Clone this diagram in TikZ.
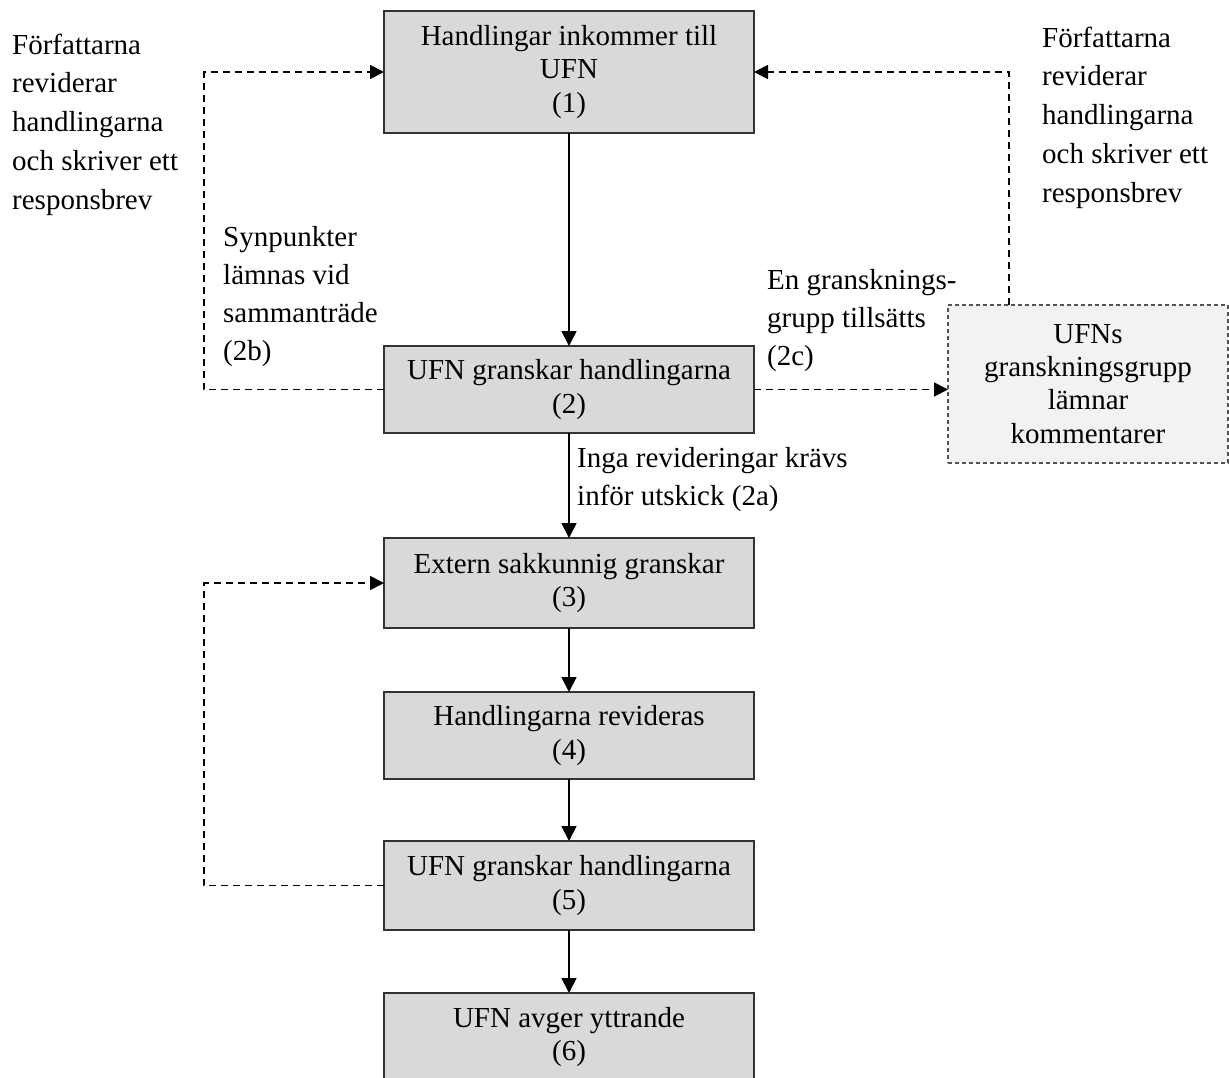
\documentclass[tikz,border=0pt]{standalone}
\usepackage{fontspec}
\setmainfont{Liberation Serif}
\usetikzlibrary{arrows.meta,calc}
\definecolor{boxfill}{HTML}{D9D9D9}
\definecolor{grpfill}{HTML}{F2F2F2}
\definecolor{boxline}{HTML}{333333}
\begin{document}
\begin{tikzpicture}[x=1pt,y=-1pt,
  stepbox/.style={draw=boxline, line width=1.8pt, fill=boxfill, minimum width=370pt,
    inner sep=0pt, outer sep=0pt, align=center, font=\fontsize{29}{33.2}\selectfont},
  grpbox/.style={draw=boxline!85, line width=1.1pt, dash pattern=on 4pt off 3pt, fill=grpfill,
    minimum width=280pt, minimum height=158pt, inner sep=0pt, outer sep=0pt, align=center,
    font=\fontsize{29}{33.2}\selectfont},
  flow/.style={line width=1.8pt, -{Triangle[length=15pt,width=15pt]}},
  loopline/.style={line width=1.8pt, -{Triangle[length=14pt,width=14pt]}, dash pattern=on 7pt off 5pt},
  lbl/.style={anchor=west, align=left, inner sep=0pt, font=\fontsize{29}{38}\selectfont},
  side/.style={anchor=west, align=left, inner sep=0pt, font=\fontsize{29}{38.75}\selectfont}
]
\clip (0,0) rectangle (1229,1077);
% main boxes
\node[stepbox, minimum height=122pt] (b1) at (569,72) {Handlingar inkommer till\\UFN\\(1)};
\node[stepbox, minimum height=87pt] (b2) at (569,389.5) {UFN granskar handlingarna\\(2)};
\node[stepbox, minimum height=90pt] (b3) at (569,583) {Extern sakkunnig granskar\\(3)};
\node[stepbox, minimum height=87pt] (b4) at (569,735.5) {Handlingarna revideras\\(4)};
\node[stepbox, minimum height=89pt] (b5) at (569,885.5) {UFN granskar handlingarna\\(5)};
\node[stepbox, minimum height=88pt] (b6) at (569,1037) {UFN avger yttrande\\(6)};
\node[grpbox] (b7) at (1088,384) {UFNs\\granskningsgrupp\\lämnar\\kommentarer};
% labels
\node[side] (tl) at (12,124.4) {Författarna\\reviderar\\handlingarna\\och skriver ett\\responsbrev};
\node[side] (tr) at (1042,117.5) {Författarna\\reviderar\\handlingarna\\och skriver ett\\responsbrev};
\node[lbl] (l2b) at (223,297) {Synpunkter\\lämnas vid\\sammanträde\\(2b)};
\node[lbl] (l2c) at (767,321) {En gransknings-\\grupp tillsätts\\(2c)};
\node[lbl] (l2a) at (577,480) {Inga revideringar krävs\\inför utskick (2a)};
% helper coordinates
\coordinate (c1) at (204,389.5);
\coordinate (c2) at (204,885.5);
\coordinate (c3) at (1009,72);
% solid flow
\draw[flow] (b1.south) -- (b2.north);
\draw[flow] (b2.south) -- (b3.north);
\draw[flow] (b3.south) -- (b4.north);
\draw[flow] (b4.south) -- (b5.north);
\draw[flow] (b5.south) -- (b6.north);
% dashed loops
\draw[loopline] (b2.west) -- (c1) |- (b1.west);
\draw[loopline] (b5.west) -- (c2) |- (b3.west);
\draw[loopline] (b2.east) -- (b2.east -| b7.west);
\draw[loopline] (b7.north -| c3) -- (c3) -- (b1.east);
\end{tikzpicture}
\end{document}
